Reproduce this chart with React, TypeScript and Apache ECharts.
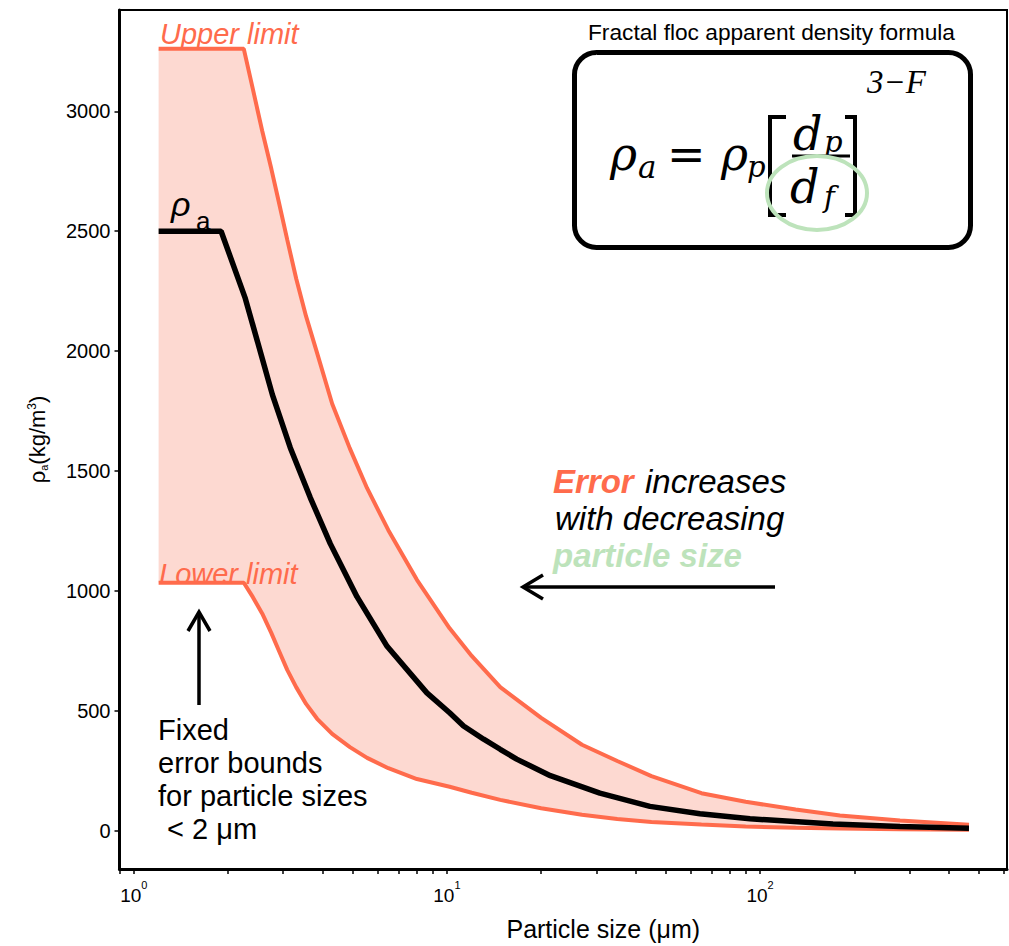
import React, { useEffect, useRef } from 'react';
import * as echarts from 'echarts';

// Mean apparent density curve (rho_a)
const X_MEAN = [1.2, 1.9, 2.27, 2.57, 2.77, 3.16, 3.66, 4.24, 5.16, 6.44, 8.63, 10.2, 11.3, 13.1, 14.8, 16.7, 21.4, 30.8, 44.5, 64.3, 92.9, 105, 171, 280, 465];
const Y_MEAN = [2500, 2500, 2220, 1971, 1819, 1598, 1390, 1198, 977, 770, 576, 493, 438, 383, 341, 300, 231, 158, 103, 72, 51, 47, 30, 19, 12];

// Error band (upper / lower limits), shared particle sizes
const X_BAND = [1.2, 2.245, 2.4, 2.57, 2.75, 2.9, 3.09, 3.3, 3.55, 3.85, 4.3, 4.9, 5.56, 6.5, 8.02, 10.2, 12, 14.8, 20, 27, 35, 45, 65, 90, 130, 180, 280, 465];
const Y_UPPER = [3260, 3260, 3092, 2919, 2759, 2626, 2465, 2303, 2145, 1992, 1781, 1594, 1429, 1254, 1047, 845, 730, 600, 472, 360, 292, 229, 158, 122, 90, 65, 44, 26];
const Y_LOWER = [1035, 1035, 975, 907, 825, 755, 672, 600, 530, 468, 405, 350, 305, 262, 217, 185, 160, 130, 95, 68, 50, 38, 27, 19, 14, 11, 8, 6];

const X_TICKS = [0.9, 1, 2, 3, 4, 5, 6, 7, 8, 9, 10, 20, 30, 40, 50, 60, 70, 80, 90, 100, 200, 300, 400, 500, 600];
const X_LABELS = [1, 10, 100];
const Y_TICKS = [0, 500, 1000, 1500, 2000, 2500, 3000];

const ORANGE = '#ff6b4c';
const FILL = '#fdd9d1';
const GREEN = '#bde3bb';
const SANS = "'Liberation Sans', Arial, sans-serif";
const SERIF = "'DejaVu Serif', serif";
const SERIF2 = "'Liberation Serif', serif";

function txt(text: string, x: number, y: number, font: string, fill = '#000', align = 'left') {
  return { type: 'text', x, y, z: 100, style: { text, font, fill, textAlign: align, textVerticalAlign: 'middle', verticalAlign: 'middle' } };
}

export default function App() {
  const ref = useRef<HTMLDivElement>(null);
  useEffect(() => {
    if (!ref.current) return;
    const chart = echarts.init(ref.current, undefined, { renderer: 'svg' });
    const option: any = {
      animation: false,
      backgroundColor: '#fff',
      grid: { left: 119.5, right: 2, top: 10, bottom: 72, show: true, borderColor: '#000', borderWidth: 2, backgroundColor: 'transparent' },
      xAxis: {
        type: 'log', logBase: 10, min: 0.9, max: 615,
        axisLine: { show: true, onZero: false, lineStyle: { color: '#000', width: 3 } },
        axisTick: { show: true, customValues: X_TICKS, length: 5, lineStyle: { color: '#000', width: 1.5 } },
        axisLabel: {
          customValues: X_LABELS, margin: 10, color: '#000',
          formatter: (v: number) => `{b|10}{s|${Math.round(Math.log10(v))}}`,
          rich: {
            b: { fontFamily: SANS, fontSize: 19, lineHeight: 26, verticalAlign: 'bottom', color: '#000' },
            s: { fontFamily: SANS, fontSize: 11, lineHeight: 11, verticalAlign: 'top', color: '#000' },
          },
        },
        splitLine: { show: false },
        name: 'Particle size (μm)', nameLocation: 'middle', nameGap: 47,
        nameTextStyle: { fontFamily: SANS, fontSize: 25, color: '#000', padding: [0, 0, 0, 80] },
      },
      yAxis: {
        type: 'value', min: -158, max: 3422,
        axisLine: { show: true, onZero: false, lineStyle: { color: '#000', width: 3 } },
        axisTick: { show: true, customValues: Y_TICKS, length: 5, lineStyle: { color: '#000', width: 1.5 } },
        axisLabel: { customValues: Y_TICKS, margin: 9, color: '#000', fontFamily: SANS, fontSize: 20, formatter: (v: number) => String(v) },
        splitLine: { show: false },
        name: '{r|ρ}{s|a}{r|(kg/m}{p|3}{r|)}', nameLocation: 'middle', nameGap: 70, nameRotate: 90,
        nameTextStyle: {
          rich: {
            r: { fontFamily: SANS, fontSize: 22, color: '#000', lineHeight: 24, verticalAlign: 'middle' },
            s: { fontFamily: SANS, fontSize: 11, color: '#000', lineHeight: 10, verticalAlign: 'bottom' },
            p: { fontFamily: SANS, fontSize: 12, color: '#000', lineHeight: 11, verticalAlign: 'top' },
          },
        },
      },
      series: [
        {
          type: 'custom', name: 'band', silent: true, z: 1,
          data: X_BAND.map((x, i) => [x, Y_LOWER[i], Y_UPPER[i]]),
          encode: { x: 0, y: [1, 2] },
          renderItem: (params: any, api: any) => {
            if (params.dataIndex !== 0) return null;
            const pts: number[][] = [];
            for (let i = 0; i < X_BAND.length; i++) pts.push(api.coord([X_BAND[i], Y_UPPER[i]]));
            for (let i = X_BAND.length - 1; i >= 0; i--) pts.push(api.coord([X_BAND[i], Y_LOWER[i]]));
            return { type: 'polygon', shape: { points: pts }, style: { fill: FILL } };
          },
        },
        {
          type: 'line', name: 'Upper limit', symbol: 'none', data: X_BAND.map((x, i) => [x, Y_UPPER[i]]),
          lineStyle: { color: ORANGE, width: 4 }, z: 3,
        },
        {
          type: 'line', name: 'Lower limit', symbol: 'none', data: X_BAND.map((x, i) => [x, Y_LOWER[i]]),
          lineStyle: { color: ORANGE, width: 4 }, z: 3,
        },
        {
          type: 'line', name: 'ρa', symbol: 'none', data: X_MEAN.map((x, i) => [x, Y_MEAN[i]]),
          lineStyle: { color: '#000', width: 5.5 }, z: 4,
        },
      ],
      graphic: [
        txt('Upper limit', 160, 34, `italic 29px ${SANS}`, ORANGE),
        txt('Lower limit', 159, 574, `italic 29px ${SANS}`, ORANGE),
        txt('ρ', 171, 204, `italic 34px ${SANS}`),
        txt('a', 196, 221, `26px ${SANS}`),
        txt('Fixed', 158, 730, `29px ${SANS}`),
        txt('error bounds', 158, 763, `29px ${SANS}`),
        txt('for particle sizes', 158, 796, `29px ${SANS}`),
        txt('< 2 μm', 167, 829, `29px ${SANS}`),
        txt('Error', 553, 481, `italic bold 33px ${SANS}`, ORANGE),
        txt('increases', 645, 481, `italic 33px ${SANS}`),
        txt('with decreasing', 555, 518, `italic 33px ${SANS}`),
        txt('particle size', 553, 555, `italic bold 33px ${SANS}`, GREEN),
        { type: 'line', z: 100, shape: { x1: 775, y1: 587, x2: 524, y2: 587 }, style: { stroke: '#000', lineWidth: 3.5 } },
        { type: 'polyline', z: 100, shape: { points: [[543, 575], [523, 587], [543, 599]] }, style: { stroke: '#000', lineWidth: 3.5, fill: null } },
        { type: 'line', z: 100, shape: { x1: 199, y1: 705, x2: 199, y2: 613 }, style: { stroke: '#000', lineWidth: 3.5 } },
        { type: 'polyline', z: 100, shape: { points: [[188, 631], [199, 612], [210, 631]] }, style: { stroke: '#000', lineWidth: 3.5, fill: null } },
        // formula box
        txt('Fractal floc apparent density formula', 771.5, 32, `22.7px ${SANS}`, '#000', 'center'),
        { type: 'rect', z: 100, shape: { x: 574.5, y: 52.5, width: 396, height: 195, r: 22 }, style: { stroke: '#000', lineWidth: 5, fill: null } },
        txt('ρ', 610, 154, `italic 46px ${SERIF}`),
        txt('a', 638, 167, `italic 31px ${SERIF}`),
        txt('=', 667, 154, `46px ${SERIF}`),
        txt('ρ', 721, 154, `italic 46px ${SERIF}`),
        txt('p', 747, 167, `italic 29px ${SERIF}`),
        { type: 'polyline', z: 100, shape: { points: [[786, 117], [770, 117], [770, 215], [786, 215]] }, style: { stroke: '#000', lineWidth: 4, fill: null } },
        { type: 'polyline', z: 100, shape: { points: [[845, 117], [855, 117], [855, 215], [845, 215]] }, style: { stroke: '#000', lineWidth: 4, fill: null } },
        txt('d', 793, 134, `italic 46px ${SERIF}`),
        txt('p', 824, 142, `italic 29px ${SERIF}`),
        { type: 'line', z: 100, shape: { x1: 792, y1: 156, x2: 850, y2: 156 }, style: { stroke: '#000', lineWidth: 3 } },
        txt('d', 790, 187, `italic 46px ${SERIF}`),
        txt('f', 824, 197, `italic 29px ${SERIF}`),
        txt('3−F', 867, 82, `italic 33px ${SERIF2}`),
        { type: 'ellipse', z: 101, shape: { cx: 817, cy: 193, rx: 50, ry: 37 }, style: { stroke: GREEN, lineWidth: 4, fill: null } },
      ],
    };
    chart.setOption(option);
    return () => chart.dispose();
  }, []);
  return <div ref={ref} style={{ position: 'fixed', left: 0, top: 0, width: 1009, height: 946 }} />;
}
